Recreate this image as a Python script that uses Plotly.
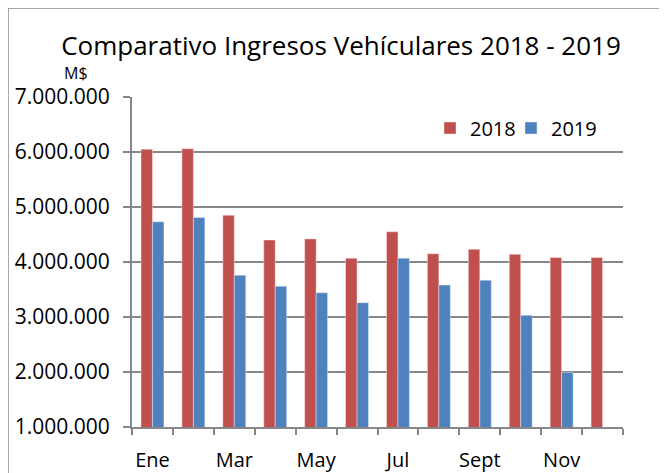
import plotly.graph_objects as go

months = ["Ene", "Feb", "Mar", "Abr", "May", "Jun", "Jul", "Ago", "Sept", "Oct", "Nov", "Dic"]
tick_labels = ["Ene", "", "Mar", "", "May", "", "Jul", "", "Sept", "", "Nov", ""]
v2018 = [6050000, 6060000, 4850000, 4400000, 4420000, 4070000, 4550000, 4150000, 4230000, 4140000, 4080000, 4080000]
v2019 = [4730000, 4810000, 3760000, 3560000, 3440000, 3260000, 4070000, 3580000, 3670000, 3030000, 1990000, None]

FONT = "Open Sans"
W, H = 667, 473
OFF = 8  # page offset of the figure inside the browser window
L, T = 132 - OFF, 97 - OFF
pw, ph = 491, 330
R, B = W - L - pw, H - T - ph

def px(x):
    return (x - OFF - L) / pw

def py(y):
    return 1 - (y - OFF - T) / ph

fig = go.Figure()
fig.add_trace(go.Bar(name="2018", x=months, y=v2018, marker_color="#C0504D",
                     marker_line=dict(color="rgba(255,230,230,0.8)", width=0.6),
                     legend="legend"))
fig.add_trace(go.Bar(name="2019", x=months, y=v2019, marker_color="#4F81BD",
                     marker_line=dict(color="rgba(225,235,255,0.8)", width=0.6),
                     legend="legend2"))

grid = "#878787"
leg_common = dict(orientation="h", yanchor="middle", xanchor="left",
                  font=dict(family=FONT, size=20), bgcolor="rgba(0,0,0,0)", itemwidth=30)
fig.update_layout(
    width=W, height=H,
    margin=dict(l=L, r=R, t=T, b=B, autoexpand=False),
    paper_bgcolor="white", plot_bgcolor="white",
    separators=",.",
    barmode="group", bargap=0.44, bargroupgap=0,
    font=dict(family=FONT, color="black", size=20),
    title=dict(text="Comparativo Ingresos Vehículares 2018 - 2019",
               xref="container", x=(341 - OFF) / W, xanchor="center",
               yref="container", y=1 - (46 - OFF) / H, yanchor="middle",
               font=dict(family=FONT, size=26, color="black")),
    showlegend=True,
    legend=dict(x=px(430), y=py(128), **leg_common),
    legend2=dict(x=px(511), y=py(128), **leg_common),
    xaxis=dict(type="category", tickmode="array", tickvals=months, ticktext=tick_labels,
               tickson="boundaries", ticks="outside", ticklen=6, tickcolor=grid, tickwidth=2,
               showline=True, linecolor=grid, linewidth=2, showgrid=False, tickangle=0,
               automargin=False, ticklabelstandoff=14,
               tickfont=dict(family=FONT, size=20), range=[-0.5, 11.5]),
    yaxis=dict(range=[1000000, 7000000], dtick=1000000, tick0=1000000, tickformat=",d",
               ticks="outside", ticklen=7, tickcolor=grid, tickwidth=2,
               showline=True, linecolor=grid, linewidth=2, automargin=False,
               ticklabelstandoff=9,
               showgrid=True, gridcolor=grid, gridwidth=2, zeroline=False,
               tickfont=dict(family=FONT, size=21)),
)

fig.add_annotation(text="M$", xref="paper", yref="paper", x=px(76), y=py(73),
                   xanchor="center", yanchor="middle", showarrow=False,
                   font=dict(family=FONT, size=16, color="black"))

# outer chart frame
fig.add_shape(type="line", xref="paper", yref="paper", x0=px(8), x1=px(700), y0=py(8), y1=py(8),
              line=dict(color="#8a8a8a", width=1.5))
fig.add_shape(type="line", xref="paper", yref="paper", x0=px(8), x1=px(8), y0=py(8), y1=py(500),
              line=dict(color="#8a8a8a", width=1.5))

fig.write_html("out.html")
